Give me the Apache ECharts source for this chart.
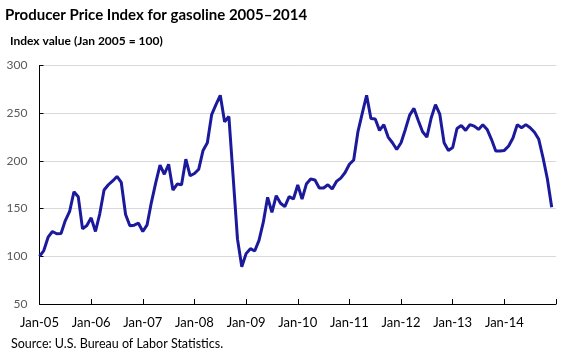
<!DOCTYPE html>
<html>
<head>
<meta charset="utf-8">
<script src="https://cdn.jsdelivr.net/npm/echarts@6/dist/echarts.min.js"></script>
<style>
  html, body { margin: 0; padding: 0; background: #ffffff; }
  #chart { width: 581px; height: 361px; }
</style>
</head>
<body>
<div id="chart"></div>
<script>
// Monthly categories Jan-05 .. Dec-14 (plus Jan-15 axis end)
const years = ['05','06','07','08','09','10','11','12','13','14','15'];
const monthNames = ['Jan','Feb','Mar','Apr','May','Jun','Jul','Aug','Sep','Oct','Nov','Dec'];
const categories = [];
years.forEach((y, yi) => {
  monthNames.forEach(m => { if (yi < years.length - 1 || m === 'Jan') categories.push(m + '-' + y); });
});

// Producer Price Index for gasoline (Jan 2005 = 100)
const ppi2005 = [100, 106, 120, 126, 123.6, 124, 137.5, 147, 167.7, 162.5, 128.8, 132.3];
const ppi2006 = [140.3, 126, 144.5, 169.5, 175, 179, 183.7, 177.4, 143.8, 132, 132.6, 134.7];
const ppi2007 = [126, 133, 156.6, 177, 195.5, 186, 196.5, 169.5, 175.7, 175, 201.8, 184.4];
const ppi2008 = [186.8, 191.3, 211, 219, 248.6, 259, 268.8, 241, 246.5, 182.6, 118, 89];
const ppi2009 = [102.8, 108, 105.5, 116.7, 135.8, 161.8, 146, 163.5, 155.6, 152, 162.5, 160];
const ppi2010 = [174.7, 160, 175.7, 181, 180, 171.6, 171.6, 175, 170.5, 178.5, 182, 187.8];
const ppi2011 = [196.5, 201, 231, 250, 268.8, 244.5, 244, 232, 238, 225, 219, 212];
const ppi2012 = [219, 233, 248, 255, 242.4, 230.5, 225, 245, 259, 249, 219, 211];
const ppi2013 = [214, 234, 237, 232, 238, 236.5, 233, 238, 233, 222.6, 210.4, 210.4];
const ppi2014 = [211, 215.6, 224, 238, 234.7, 238, 234.7, 230, 222.6, 203, 181, 151.4];
const values = [].concat(ppi2005, ppi2006, ppi2007, ppi2008, ppi2009, ppi2010, ppi2011, ppi2012, ppi2013, ppi2014);

const titleText = 'Producer Price Index for gasoline 2005\u20132014';
const subtitleText = 'Index value (Jan 2005 = 100)';
const sourceText = 'Source: U.S. Bureau of Labor Statistics.';

const FONT = 'Lato, "Open Sans", "Liberation Sans", sans-serif';
const chart = echarts.init(document.getElementById('chart'), null, { renderer: 'canvas' });
chart.setOption({
  animation: false,
  backgroundColor: '#ffffff',
  textStyle: { fontFamily: FONT },
  graphic: [
    { type: 'text', left: 5, top: 8, style: { text: titleText, font: 'bold 15px ' + FONT, fill: '#000000' } },
    { type: 'text', left: 10, top: 35, style: { text: subtitleText, font: 'bold 12px ' + FONT, fill: '#000000' } },
    { type: 'text', left: 11, top: 337, style: { text: sourceText, font: '12.5px ' + FONT, fill: '#000000' } }
  ],
  grid: { left: 39.5, right: 25, top: 65.5, bottom: 57, containLabel: false },
  xAxis: {
    type: 'category',
    data: categories,
    boundaryGap: false,
    axisLine: { lineStyle: { color: '#000000', width: 1 } },
    axisTick: { inside: true, length: 5, interval: 11, lineStyle: { color: '#000000' } },
    axisLabel: {
      interval: 11, margin: 12, color: '#000000', fontSize: 13, fontFamily: FONT,
      formatter: (v, i) => (i < categories.length - 1 ? v : '')
    },
    splitLine: { show: false }
  },
  yAxis: {
    type: 'value',
    min: 50, max: 300, interval: 50,
    axisLine: { show: true, lineStyle: { color: '#000000', width: 1 } },
    axisTick: { show: true, inside: true, length: 4, lineStyle: { color: '#000000' } },
    axisLabel: { color: '#595959', fontSize: 12, fontFamily: FONT, margin: 12 },
    splitLine: { lineStyle: { color: '#d9d9d9', width: 1 } }
  },
  series: [{
    type: 'line',
    data: values,
    showSymbol: false,
    symbol: 'none',
    lineStyle: { color: '#1c1a9c', width: 3 },
    itemStyle: { color: '#1c1a9c' }
  }]
});
</script>
</body>
</html>
